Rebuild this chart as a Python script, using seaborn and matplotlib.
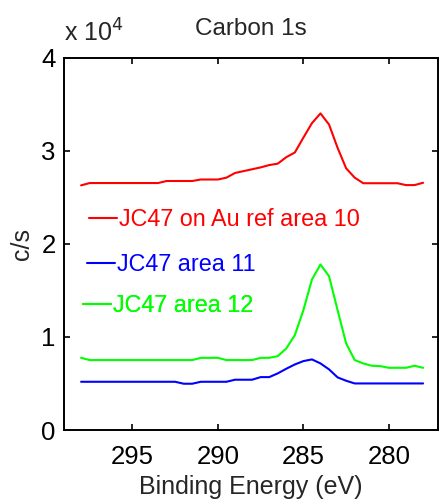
import numpy as np
import pandas as pd
import matplotlib
matplotlib.use('Agg')
import matplotlib.pyplot as plt
import seaborn as sns

# binding energy grid (298 -> 278 eV, 0.5 eV steps)
energy = [298.0, 297.5, 297.0, 296.5, 296.0, 295.5, 295.0, 294.5, 294.0, 293.5,
          293.0, 292.5, 292.0, 291.5, 291.0, 290.5, 290.0, 289.5, 289.0, 288.5,
          288.0, 287.5, 287.0, 286.5, 286.0, 285.5, 285.0, 284.5, 284.0, 283.5,
          283.0, 282.5, 282.0, 281.5, 281.0, 280.5, 280.0, 279.5, 279.0, 278.5,
          278.0]

# counts per second
area10 = [26270, 26520, 26520, 26520, 26520, 26520, 26520, 26520, 26520, 26520,
          26740, 26740, 26740, 26740, 26900, 26900, 26900, 27100, 27600, 27800,
          28000, 28200, 28450, 28600, 29300, 29800, 31400, 32950, 34000, 32800,
          30300, 28100, 27100, 26500, 26500, 26500, 26500, 26500, 26300, 26300,
          26550]
area11 = [5180, 5180, 5180, 5180, 5180, 5180, 5180, 5180, 5180, 5180,
          5180, 5180, 4970, 4970, 5180, 5180, 5180, 5180, 5400, 5400,
          5400, 5680, 5680, 6080, 6580, 7040, 7400, 7580, 7150, 6510,
          5650, 5290, 5000, 5000, 5000, 5000, 5000, 5000, 5000, 5000,
          5000]
area12 = [7750, 7510, 7510, 7510, 7510, 7510, 7510, 7510, 7510, 7510,
          7510, 7510, 7510, 7510, 7750, 7750, 7750, 7510, 7510, 7510,
          7510, 7750, 7750, 7930, 8760, 10190, 12870, 16160, 17770, 16510,
          12870, 9300, 7510, 7150, 6900, 6860, 6680, 6680, 6680, 6900,
          6680]

labels = ['JC47 on Au ref area 10', 'JC47 area 11', 'JC47 area 12']
palette = {'JC47 on Au ref area 10': '#ff0000',
           'JC47 area 11': '#0000ff',
           'JC47 area 12': '#00ff00'}

df = pd.DataFrame({'Energy': energy * 3,
                   'Counts': np.array(area10 + area11 + area12) / 1e4,
                   'Sample': np.repeat(labels, len(energy))})

sns.set_style('ticks')
plt.rcParams['font.family'] = ['Liberation Sans', 'DejaVu Sans']
plt.rcParams['xtick.direction'] = 'in'
plt.rcParams['ytick.direction'] = 'in'

fig = plt.figure(figsize=(4.41, 5.01), dpi=100)
ax = fig.add_axes([0.1451, 0.1417, 0.8492, 0.7435])
sns.lineplot(data=df, x='Energy', y='Counts', hue='Sample', hue_order=labels,
             palette=palette, linewidth=1.5, legend=False, ax=ax, sort=False)

ax.set_xlim(299, 277.1)
ax.set_ylim(0, 4)
ax.set_xticks([295, 290, 285, 280])
ax.set_yticks([0, 1, 2, 3, 4])
ax.tick_params(which='both', top=True, right=True, length=4, width=1.2,
               labelsize=18.5, colors='black')
ax.tick_params(axis='x', pad=11)
ax.tick_params(axis='y', pad=6)
for s in ax.spines.values():
    s.set_linewidth(1.4)
    s.set_color('black')

ax.set_xlabel('Binding Energy (eV)', fontsize=18)
ax.set_ylabel('c/s', fontsize=18)
ax.xaxis.set_label_coords(0.5, -0.12)
ax.yaxis.set_label_coords(-0.079, 0.5)
ax.set_title('Carbon 1s', fontsize=17.5, pad=16)
fig.text(0.145, 0.917, 'x 10$^{4}$', fontsize=18, va='baseline', ha='left')

# separate one-entry legends, staggered like the original
legend_pos = [(0.0676, 0.5656), (0.0622, 0.4448), (0.0515, 0.3348)]
for line, lab, pos in zip(ax.lines, labels, legend_pos):
    leg = ax.legend([line], [lab], loc='center left', bbox_to_anchor=pos,
                    frameon=False, fontsize=16.8, handlelength=1.18,
                    handletextpad=0.08, borderpad=0, borderaxespad=0,
                    labelcolor=palette[lab])
    ax.add_artist(leg)

fig.savefig('out.png', dpi=100)
